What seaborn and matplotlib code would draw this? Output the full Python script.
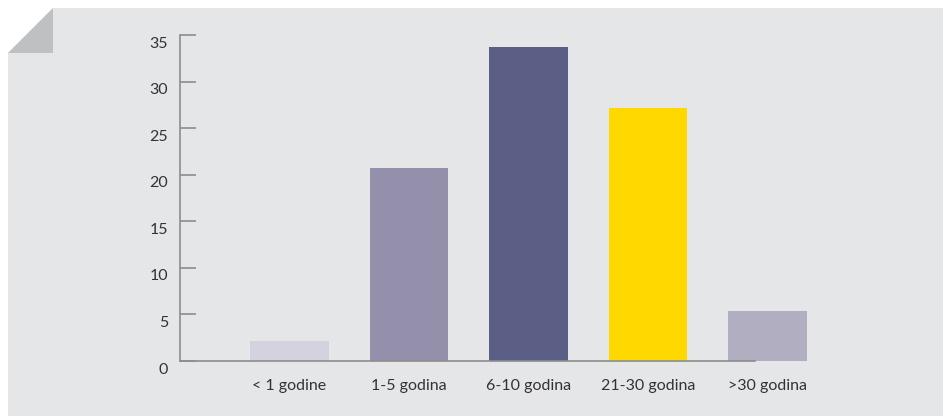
import matplotlib
matplotlib.use("Agg")
import matplotlib.pyplot as plt
import matplotlib.transforms as mtransforms
from matplotlib.patches import Polygon
import pandas as pd
import seaborn as sns

# podaci - staz (godine)
kategorije = ["< 1 godine", "1-5 godina", "6-10 godina", "21-30 godina", ">30 godina"]
vrijednosti = [2.1, 20.7, 33.7, 27.2, 5.4]
boje = ["#d3d2de", "#948fab", "#5c5f85", "#ffd800", "#b0aec0"]
y_ticks = [0, 5, 10, 15, 20, 25, 30, 35]

df = pd.DataFrame({"kategorija": kategorije, "vrijednost": vrijednosti})

sns.set_theme(style="white")
plt.rcParams["font.family"] = ["Lato", "DejaVu Sans"]

W, H = 943, 416
fig = plt.figure(figsize=(W / 100, H / 100), dpi=100, facecolor="white")

# list papira sa presavijenim cosakom
def px(x, y):
    return (x / W, 1 - y / H)

sheet = Polygon([px(8, 416), px(8, 53), px(53, 8), px(943, 8), px(943, 416)],
                closed=True, transform=fig.transFigure, facecolor="#e5e6e8",
                edgecolor="none", zorder=-2)
fold = Polygon([px(8, 53), px(53, 53), px(53, 8)], closed=True,
               transform=fig.transFigure, facecolor="#bfc0c2",
               edgecolor="none", zorder=-1)
fig.patches.extend([sheet, fold])

ax = fig.add_axes([180 / W, 55 / H, (W - 180) / W, 326 / H])
ax.set_facecolor("none")

sns.barplot(data=df, x="kategorija", y="vrijednost", hue="kategorija",
            palette=boje, legend=False, width=0.66, saturation=1,
            linewidth=0, ax=ax)

step = 119.5
ax.set_xlim((180 - 289.5) / step, (943 - 289.5) / step)
ax.set_ylim(0, 35)
ax.set_yticks(y_ticks)
ax.set_xlabel("")
ax.set_ylabel("")

for s in ["top", "right"]:
    ax.spines[s].set_visible(False)
ax.spines["left"].set_color("#8d8d8d")
ax.spines["bottom"].set_color("#8d8d8d")
ax.spines["left"].set_linewidth(1.2)
ax.spines["bottom"].set_linewidth(1.2)
ax.spines["bottom"].set_bounds((180 - 289.5) / step, (755 - 289.5) / step)

ax.tick_params(axis="y", left=True, direction="in", length=11.5, width=1.2,
               color="#8d8d8d", pad=8.5, labelsize=11.5, labelcolor="#333333")
ax.tick_params(axis="x", bottom=False, length=0, pad=13, labelsize=11.5,
               labelcolor="#333333")

off = mtransforms.ScaledTranslation(0, -7 / 100, fig.dpi_scale_trans)
for lab in ax.get_yticklabels():
    lab.set_transform(lab.get_transform() + off)

fig.savefig("out.png", dpi=100, facecolor="white")
